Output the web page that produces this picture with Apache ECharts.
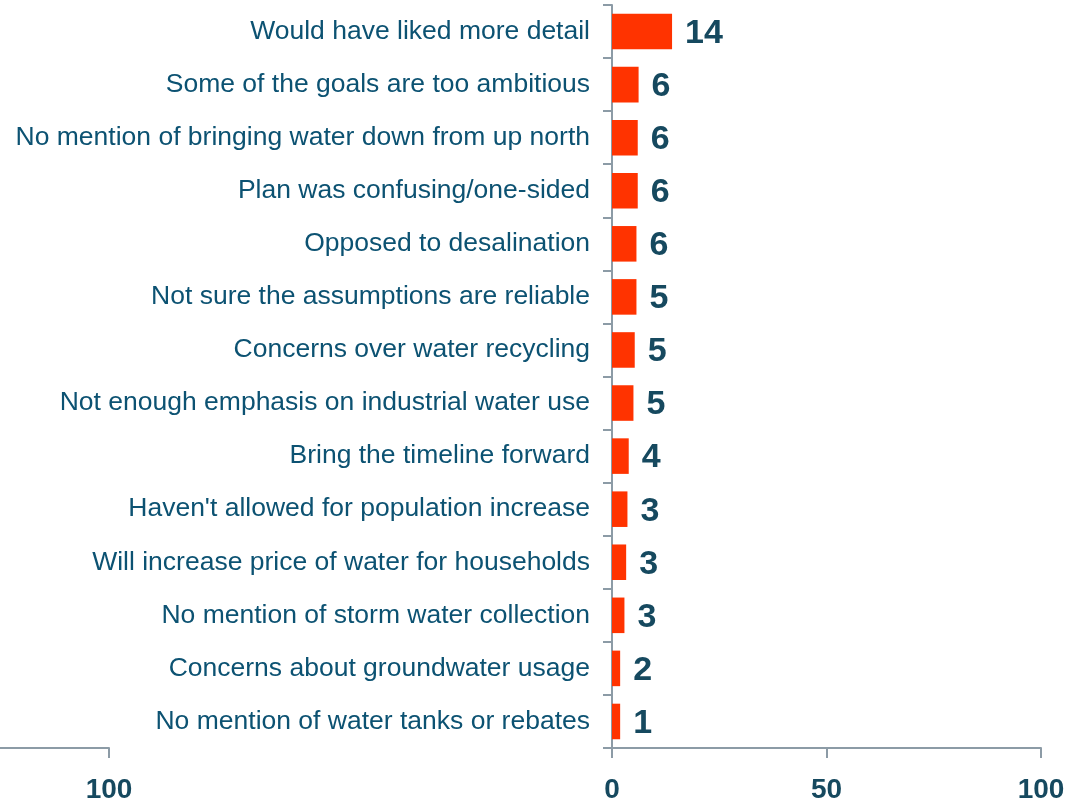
<!DOCTYPE html>
<html>
<head>
<meta charset="utf-8">
<script src="https://cdn.jsdelivr.net/npm/echarts@6/dist/echarts.min.js"></script>
<style>
html,body{margin:0;padding:0;background:#fff;}
#c{width:1079px;height:803px;}
</style>
</head>
<body>
<div id="c"></div>
<script>
const categories = [
  "Would have liked more detail",
  "Some of the goals are too ambitious",
  "No mention of bringing water down from up north",
  "Plan was confusing/one-sided",
  "Opposed to desalination",
  "Not sure the assumptions are reliable",
  "Concerns over water recycling",
  "Not enough emphasis on industrial water use",
  "Bring the timeline forward",
  "Haven't allowed for population increase",
  "Will increase price of water for households",
  "No mention of storm water collection",
  "Concerns about groundwater usage",
  "No mention of water tanks or rebates"
];
const values = [14.0, 6.2, 6.0, 6.0, 5.7, 5.7, 5.3, 5.0, 3.9, 3.6, 3.3, 2.9, 1.9, 1.9];
const valueLabels = ["14", "6", "6", "6", "6", "5", "5", "5", "4", "3", "3", "3", "2", "1"];
const axisMin = 0, axisMax = 100, axisStep = 50;

const axisGrey = '#8c9ba6';
const textTeal = '#0c5272';
const numTeal = '#16495f';

const chart = echarts.init(document.getElementById('c'), null, {renderer: 'canvas'});
chart.setOption({
  animation: false,
  backgroundColor: '#ffffff',
  grid: [
    {left: 612, right: 38, top: 5, bottom: 55, containLabel: false, outerBoundsMode: 'none'},
    {left: -319, right: 970, top: 5, bottom: 55, containLabel: false, outerBoundsMode: 'none'}
  ],
  xAxis: [
    {
      type: 'value', gridIndex: 0, min: axisMin, max: axisMax, interval: axisStep,
      axisLine: {show: true, lineStyle: {color: axisGrey, width: 2}},
      axisTick: {show: true, length: 10, lineStyle: {color: axisGrey, width: 2}},
      splitLine: {show: false},
      axisLabel: {
        margin: 28, color: numTeal, fontFamily: 'Liberation Sans, Arial, sans-serif',
        fontWeight: 'bold', fontSize: 28
      }
    },
    {
      type: 'value', gridIndex: 1, min: axisMin, max: axisMax, interval: axisStep,
      axisLine: {show: true, lineStyle: {color: axisGrey, width: 2}},
      axisTick: {show: true, length: 10, lineStyle: {color: axisGrey, width: 2}},
      splitLine: {show: false},
      axisLabel: {
        margin: 28, color: numTeal, fontFamily: 'Liberation Sans, Arial, sans-serif',
        fontWeight: 'bold', fontSize: 28
      }
    }
  ],
  yAxis: [
    {
      type: 'category', gridIndex: 0, data: categories, inverse: true,
      axisLine: {show: true, lineStyle: {color: axisGrey, width: 2}},
      axisTick: {show: true, length: 9, alignWithLabel: false, lineStyle: {color: axisGrey, width: 2}},
      axisLabel: {
        margin: 22, color: textTeal, fontFamily: 'Liberation Sans, Arial, sans-serif',
        fontSize: 26.5, padding: [4, 0, 0, 0]
      }
    },
    {
      type: 'category', gridIndex: 1, data: categories, inverse: true, show: false
    }
  ],
  series: [
    {
      type: 'bar', xAxisIndex: 0, yAxisIndex: 0, data: values,
      barCategoryGap: '33%',
      itemStyle: {color: '#ff3300'},
      label: {
        show: true, position: 'right', distance: 13, offset: [0, 2],
        color: numTeal, fontFamily: 'Liberation Sans, Arial, sans-serif',
        fontWeight: 'bold', fontSize: 34,
        formatter: p => valueLabels[p.dataIndex]
      }
    }
  ]
});
</script>
</body>
</html>
